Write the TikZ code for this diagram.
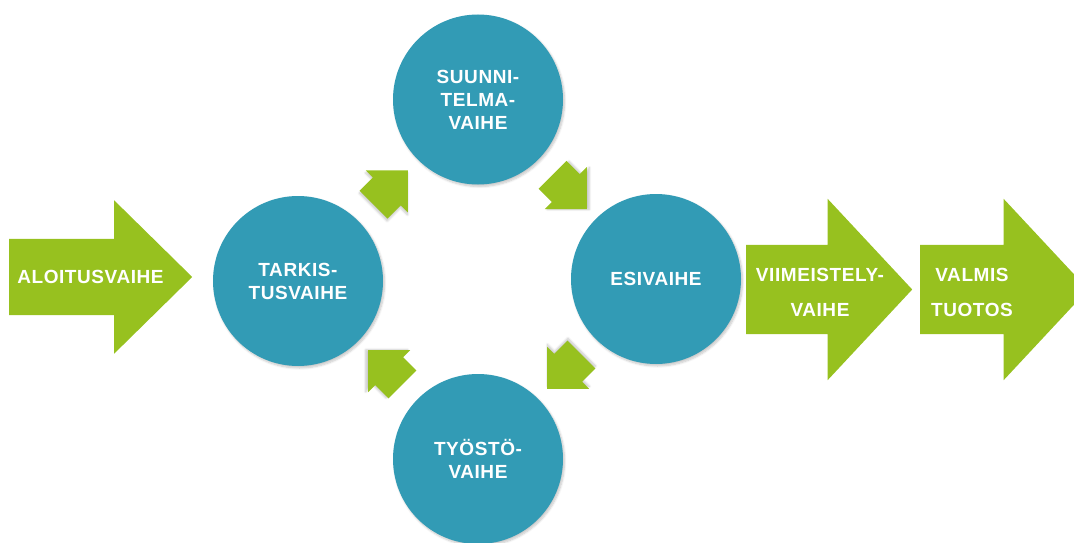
\documentclass[tikz,border=0pt]{standalone}
\usepackage{fontspec}
\setmainfont{Liberation Sans}
\usetikzlibrary{shapes.arrows,shadows.blur,calc}
\definecolor{phaseblue}{RGB}{50,155,181}
\definecolor{phasegreen}{RGB}{151,193,31}
\newcommand{\phasefont}{\bfseries\fontsize{19}{23}\selectfont\addfontfeature{LetterSpace=3}}

\begin{document}
\begin{tikzpicture}[x=1pt,y=-1pt,
    softshadow/.style={blur shadow={shadow xshift=1.5pt,shadow yshift=-2pt,
      shadow opacity=22,shadow blur steps=6}},
    phase/.style={circle,fill=phaseblue,minimum size=170pt,inner sep=0pt,
      text=white,font=\phasefont,align=center,softshadow},
    bigarrow/.style={single arrow,fill=phasegreen,inner xsep=0pt,anchor=tail},
    % shadow offset is turned back so it falls down and right after rotating
    smallarrow/.style={single arrow,fill=phasegreen,inner xsep=0pt,inner ysep=19.5pt,
      minimum height=48.5pt,single arrow head extend=10pt,rotate=#1,xshift=-6pt,
      blur shadow={shadow xshift={1.5pt*cos(#1)-2pt*sin(#1)},
        shadow yshift={-1.5pt*sin(#1)-2pt*cos(#1)},
        shadow opacity=22,shadow blur steps=6}},
    arrowtext/.style={text=white,align=center,
      font=\bfseries\fontsize{19}{35}\selectfont\addfontfeature{LetterSpace=3}}]
  \useasboundingbox (0,0) rectangle (1074,543);
  \clip (0,0) rectangle (1074,543);

  \node[bigarrow,inner ysep=38pt,minimum height=183pt,
    single arrow head extend=38.5pt,single arrow tip angle=89] (aloitus) at (9,277) {};
  \node[bigarrow,inner ysep=44.5pt,minimum height=166pt,
    single arrow head extend=46pt,single arrow tip angle=94] (viimeistely) at (746,289.5) {};
  \node[bigarrow,inner ysep=44.5pt,minimum height=168pt,
    single arrow head extend=46pt,single arrow tip angle=94] (valmis) at (920,289.5) {};
  \node[arrowtext] (aloitus-txt) at (90.5,277) {ALOITUSVAIHE};
  \node[arrowtext] (viimeistely-txt) at (820,292) {VIIMEISTELY-\\VAIHE};
  \node[arrowtext] (valmis-txt) at (972,292) {VALMIS\\TUOTOS};

  \node[phase] (suunnittelu) at (478,99.5) {SUUNNI-\\TELMA-\\VAIHE};
  \node[phase] (tarkistus) at (298,281) {TARKIS-\\TUSVAIHE};
  \node[phase] (esivaihe) at (656,279) {ESIVAIHE};
  \node[phase] (tyosto) at (478,459) {TYÖSTÖ-\\VAIHE};

  \node[smallarrow=45] (a1) at ($(tarkistus)!0.5!(suunnittelu)$) {};
  \node[smallarrow=-45] (a2) at ($(suunnittelu)!0.5!(esivaihe)$) {};
  \node[smallarrow=-135] (a3) at ($(esivaihe)!0.5!(tyosto)$) {};
  \node[smallarrow=135] (a4) at ($(tyosto)!0.5!(tarkistus)$) {};
\end{tikzpicture}
\end{document}
